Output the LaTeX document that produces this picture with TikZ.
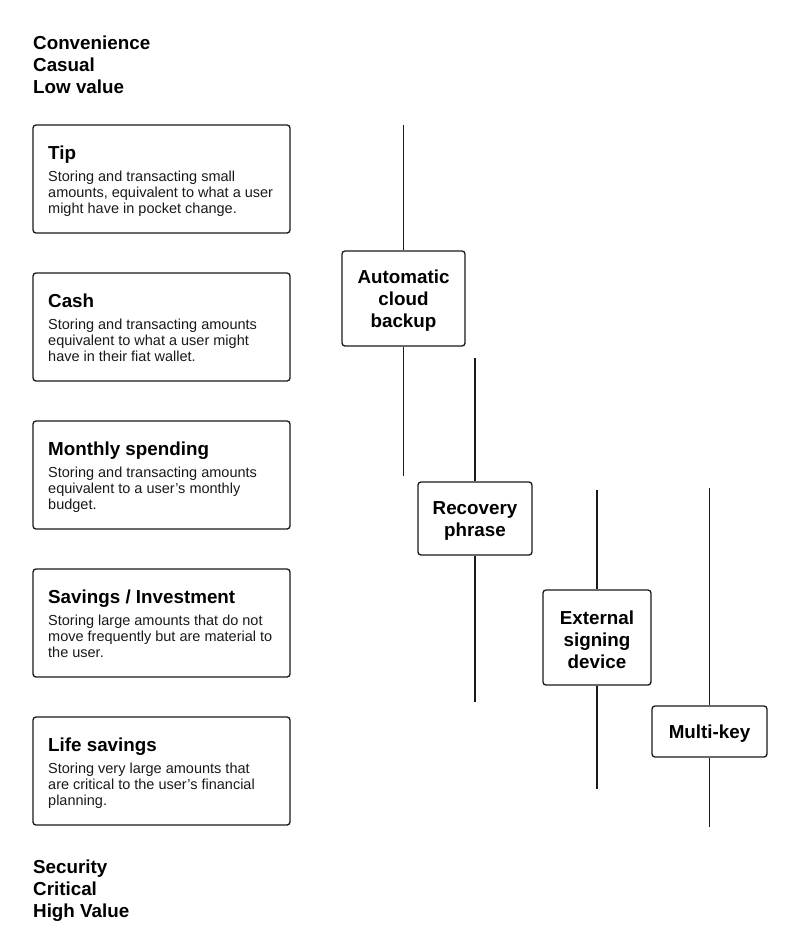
\documentclass[tikz,border=0pt]{standalone}
\usepackage{fontspec}
\setmainfont{Liberation Sans}
\begin{document}
\begin{tikzpicture}[x=1pt,y=-1pt,
  heading/.style={font=\fontsize{18.8}{22}\selectfont\bfseries, anchor=base west, inner sep=0pt},
  catbox/.style={draw=black!90, line width=1.3pt, rounded corners=3pt, minimum width=257pt, minimum height=108pt, inner sep=0pt},
  cattitle/.style={font=\fontsize{18.8}{22}\selectfont\bfseries, anchor=base west, inner sep=0pt},
  catbody/.style={font=\fontsize{14.5}{16}\selectfont, anchor=base west, inner sep=0pt, text=black!90},
  methbox/.style={draw=black!90, line width=1.3pt, rounded corners=3pt, inner sep=0pt},
  methtext/.style={inner sep=0pt, align=center, font=\fontsize{18.8}{22}\selectfont\bfseries, yshift=-2.5pt},
  vline/.style={draw=black!90, line width=1.2pt}
]
\useasboundingbox (0,0) rectangle (800,951);
\newcommand\catentry[6]{%
  \node[catbox] (#1) at (161.5,#2+54) {};
  \node[cattitle] (#1t) at (48,#2+34) {#3};
  \node[catbody] (#1a) at (48,#2+56) {#4};
  \node[catbody] (#1b) at (48,#2+72) {#5};
  \node[catbody] (#1c) at (48,#2+88) {#6};
}
% headings
\node[heading] (h1) at (33,49) {Convenience};
\node[heading] (h2) at (33,71) {Casual};
\node[heading] (h3) at (33,93) {Low value};
\node[heading] (f1) at (33,873) {Security};
\node[heading] (f2) at (33,895) {Critical};
\node[heading] (f3) at (33,917) {High Value};
% categories
\catentry{tip}{125}{Tip}{Storing and transacting small}{amounts, equivalent to what a user}{might have in pocket change.}
\catentry{cash}{273}{Cash}{Storing and transacting amounts}{equivalent to what a user might}{have in their fiat wallet.}
\catentry{month}{421}{Monthly spending}{Storing and transacting amounts}{equivalent to a user’s monthly}{budget.}
\catentry{save}{569}{Savings / Investment}{Storing large amounts that do not}{move frequently but are material to}{the user.}
\catentry{life}{717}{Life savings}{Storing very large amounts that}{are critical to the user’s financial}{planning.}
% methods
\node[methbox, minimum width=123pt, minimum height=95pt] (cloud) at (403.5,298.5) {};
\node[methtext] (cloudtxt) at (cloud.center) {Automatic\\cloud\\backup};
\node[methbox, minimum width=114pt, minimum height=73pt] (phrase) at (475,518.5) {};
\node[methtext] (phrasetxt) at (phrase.center) {Recovery\\phrase};
\node[methbox, minimum width=108pt, minimum height=95pt] (ext) at (597,637.5) {};
\node[methtext] (exttxt) at (ext.center) {External\\signing\\device};
\node[methbox, minimum width=115pt, minimum height=51pt] (multi) at (709.5,731.5) {};
\node[methtext] (multitxt) at (multi.center) {Multi-key};
% line ends
\coordinate (cloudT) at (403.5,125);
\coordinate (cloudB) at (403.5,476);
\coordinate (phraseT) at (475,358);
\coordinate (phraseB) at (475,702);
\coordinate (extT) at (597,490);
\coordinate (extB) at (597,789);
\coordinate (multiT) at (709.5,488);
\coordinate (multiB) at (709.5,827);
\draw[vline] (cloudT) -- (cloud.north);
\draw[vline] (cloud.south) -- (cloudB);
\draw[vline] (phraseT) -- (phrase.north);
\draw[vline] (phrase.south) -- (phraseB);
\draw[vline] (extT) -- (ext.north);
\draw[vline] (ext.south) -- (extB);
\draw[vline] (multiT) -- (multi.north);
\draw[vline] (multi.south) -- (multiB);
\end{tikzpicture}
\end{document}
